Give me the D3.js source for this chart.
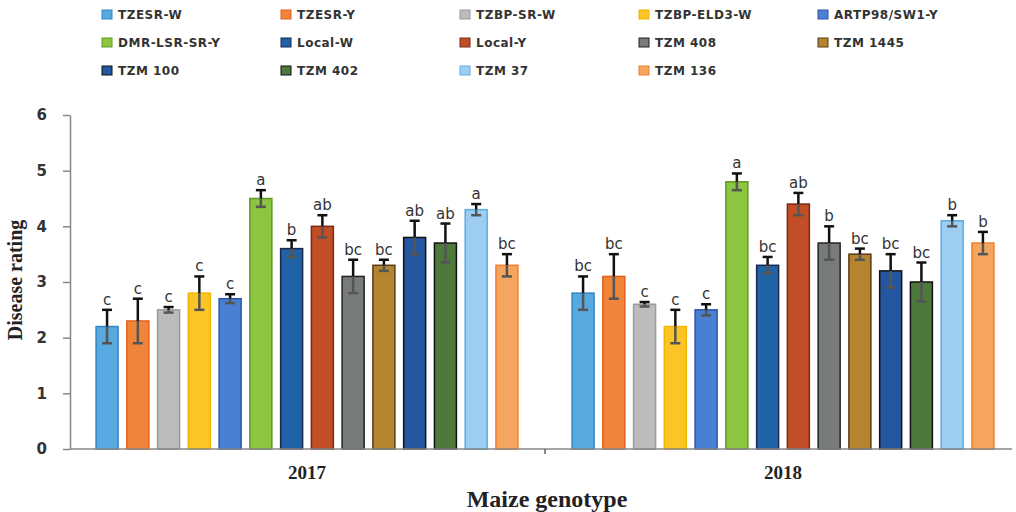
<!DOCTYPE html>
<html>
  <head>
    <meta charset="utf-8">
    <script src="https://cdn.jsdelivr.net/npm/d3@7"></script>
    <style>
      body, html { margin: 0; padding: 0; background: #fff; overflow: hidden; }
      svg { display: block; }
    </style>
  </head>
  <body>
    <div id="chart"></div>
    <script>
      // data
      var years = ['2017', '2018'];
      var genotypes = ['TZESR-W', 'TZESR-Y', 'TZBP-SR-W', 'TZBP-ELD3-W', 'ARTP98/SW1-Y',
        'DMR-LSR-SR-Y', 'Local-W', 'Local-Y', 'TZM 408', 'TZM 1445',
        'TZM 100', 'TZM 402', 'TZM 37', 'TZM 136'];
      var fills = ['#58a9e0', '#f0853a', '#bcbcbc', '#fcc526', '#4a80d2', '#8cc540', '#1f63a6',
        '#c24e27', '#777b7b', '#b5842e', '#2556a0', '#4d7a3a', '#9dcdf0', '#f5a55e'];
      var strokes = ['#2f86c4', '#e2601f', '#9a9a9a', '#f2b400', '#2a55aa', '#5d9a25', '#1a2850',
        '#7a2a1a', '#222', '#5b3a18', '#111', '#111', '#5aaee0', '#f08030'];
      var mean2017 = [2.2, 2.3, 2.5, 2.8, 2.7, 4.5, 3.6, 4.0, 3.1, 3.3, 3.8, 3.7, 4.3, 3.3];
      var err2017 = [0.3, 0.4, 0.05, 0.3, 0.08, 0.15, 0.15, 0.2, 0.3, 0.1, 0.3, 0.35, 0.1, 0.2];
      var sig2017 = ['c', 'c', 'c', 'c', 'c', 'a', 'b', 'ab', 'bc', 'bc', 'ab', 'ab', 'a', 'bc'];
      var mean2018 = [2.8, 3.1, 2.6, 2.2, 2.5, 4.8, 3.3, 4.4, 3.7, 3.5, 3.2, 3.0, 4.1, 3.7];
      var err2018 = [0.3, 0.4, 0.04, 0.3, 0.1, 0.15, 0.15, 0.2, 0.3, 0.1, 0.3, 0.35, 0.1, 0.2];
      var sig2018 = ['bc', 'bc', 'c', 'c', 'c', 'a', 'bc', 'ab', 'b', 'bc', 'bc', 'bc', 'b', 'b'];
      var yTicks = [0, 1, 2, 3, 4, 5, 6];

      var means = {'2017': mean2017, '2018': mean2018};
      var errs = {'2017': err2017, '2018': err2018};
      var sigs = {'2017': sig2017, '2018': sig2018};

      var W = 1016, H = 512;
      var svg = d3.select('#chart').append('svg').attr('width', W).attr('height', H);

      var y = d3.scaleLinear().domain([0, 6]).range([449, 115]);
      var x0 = d3.scaleBand().domain(years).range([69, 1021]);
      var x1 = d3.scaleBand().domain(genotypes).range([0, x0.bandwidth()])
        .paddingInner(0.285).paddingOuter(0.88);
      var color = d3.scaleOrdinal().domain(genotypes).range(fills);
      var edge = d3.scaleOrdinal().domain(genotypes).range(strokes);

      var rows = [];
      years.forEach(function(yr) {
        genotypes.forEach(function(g, i) {
          rows.push({year: yr, g: g, v: means[yr][i], e: errs[yr][i], s: sigs[yr][i]});
        });
      });

      // bars
      svg.append('g').selectAll('rect').data(rows).enter().append('rect')
        .attr('x', function(d) { return x0(d.year) + x1(d.g); })
        .attr('y', function(d) { return y(d.v); })
        .attr('width', x1.bandwidth())
        .attr('height', function(d) { return y(0) - y(d.v); })
        .attr('fill', function(d) { return color(d.g); })
        .attr('stroke', function(d) { return edge(d.g); })
        .attr('stroke-width', 1.5);

      // error bars
      var eb = svg.append('g').selectAll('g').data(rows).enter().append('g')
        .attr('transform', function(d) { return 'translate(' + (x0(d.year) + x1(d.g) + x1.bandwidth() / 2) + ',0)'; });
      eb.append('line')
        .attr('y1', function(d) { return y(d.v + d.e); }).attr('y2', function(d) { return y(d.v); })
        .attr('stroke', '#111').attr('stroke-width', 2.5);
      eb.append('line')
        .attr('y1', function(d) { return y(d.v); }).attr('y2', function(d) { return y(d.v - d.e); })
        .attr('stroke', '#555').attr('stroke-width', 2.5);
      eb.append('line').attr('x1', -5).attr('x2', 5)
        .attr('y1', function(d) { return y(d.v + d.e); }).attr('y2', function(d) { return y(d.v + d.e); })
        .attr('stroke', '#111').attr('stroke-width', 2.5);
      eb.append('line').attr('x1', -5).attr('x2', 5)
        .attr('y1', function(d) { return y(d.v - d.e); }).attr('y2', function(d) { return y(d.v - d.e); })
        .attr('stroke', '#555').attr('stroke-width', 2.5);
      eb.append('text')
        .attr('y', function(d) { return y(d.v + d.e) - 5; })
        .attr('text-anchor', 'middle')
        .attr('font-family', 'DejaVu Sans, sans-serif').attr('font-size', 15)
        .attr('fill', '#333')
        .text(function(d) { return d.s; });

      // y axis
      var ya = svg.append('g').attr('transform', 'translate(70,0)')
        .call(d3.axisLeft(y).tickValues(yTicks).tickFormat(d3.format('d'))
          .tickSize(7).tickSizeOuter(0).tickPadding(16));
      ya.select('.domain').attr('stroke', '#888').attr('stroke-width', 1.5);
      ya.selectAll('.tick line').attr('stroke', '#888').attr('stroke-width', 1.5);
      ya.selectAll('.tick text').attr('font-family', 'DejaVu Sans, sans-serif')
        .attr('font-weight', 'bold').attr('font-size', 15).attr('fill', '#333');

      // x axis
      var xa = svg.append('g').attr('transform', 'translate(0,449)')
        .call(d3.axisBottom(x0).tickSize(0).tickPadding(17));
      xa.select('.domain').remove();
      xa.append('line').attr('x1', 70).attr('x2', 1012).attr('stroke', '#888').attr('stroke-width', 1.5);
      xa.append('line').attr('x1', x0('2018')).attr('x2', x0('2018')).attr('y1', 0).attr('y2', 5)
        .attr('stroke', '#666').attr('stroke-width', 1.5);
      xa.selectAll('.tick text').attr('font-family', 'Liberation Serif, serif')
        .attr('font-weight', 'bold').attr('font-size', 19).attr('fill', '#222');

      // axis titles
      svg.append('text').attr('transform', 'translate(22,280) rotate(-90)')
        .attr('text-anchor', 'middle').attr('font-family', 'Liberation Serif, serif')
        .attr('font-weight', 'bold').attr('font-size', 20).attr('fill', '#222')
        .text('Disease rating');
      svg.append('text').attr('x', 547).attr('y', 507)
        .attr('text-anchor', 'middle').attr('font-family', 'Liberation Serif, serif')
        .attr('font-weight', 'bold').attr('font-size', 24).attr('fill', '#222')
        .text('Maize genotype');

      // legend, 5 per row
      var leg = svg.append('g').selectAll('g').data(genotypes).enter().append('g')
        .attr('transform', function(d, i) {
          return 'translate(' + (102 + (i % 5) * 179) + ',' + (15 + Math.floor(i / 5) * 28) + ')';
        });
      leg.append('rect').attr('x', 0).attr('y', -5).attr('width', 10).attr('height', 9)
        .attr('fill', function(d) { return color(d); })
        .attr('stroke', function(d) { return edge(d); }).attr('stroke-width', 1);
      leg.append('text').attr('x', 16).attr('y', 0).attr('dy', '0.35em')
        .attr('font-family', 'DejaVu Sans, sans-serif').attr('font-weight', 'bold')
        .attr('font-size', 12).attr('letter-spacing', 0.5).attr('fill', '#333')
        .text(function(d) { return d; });
    </script>
  </body>
</html>
